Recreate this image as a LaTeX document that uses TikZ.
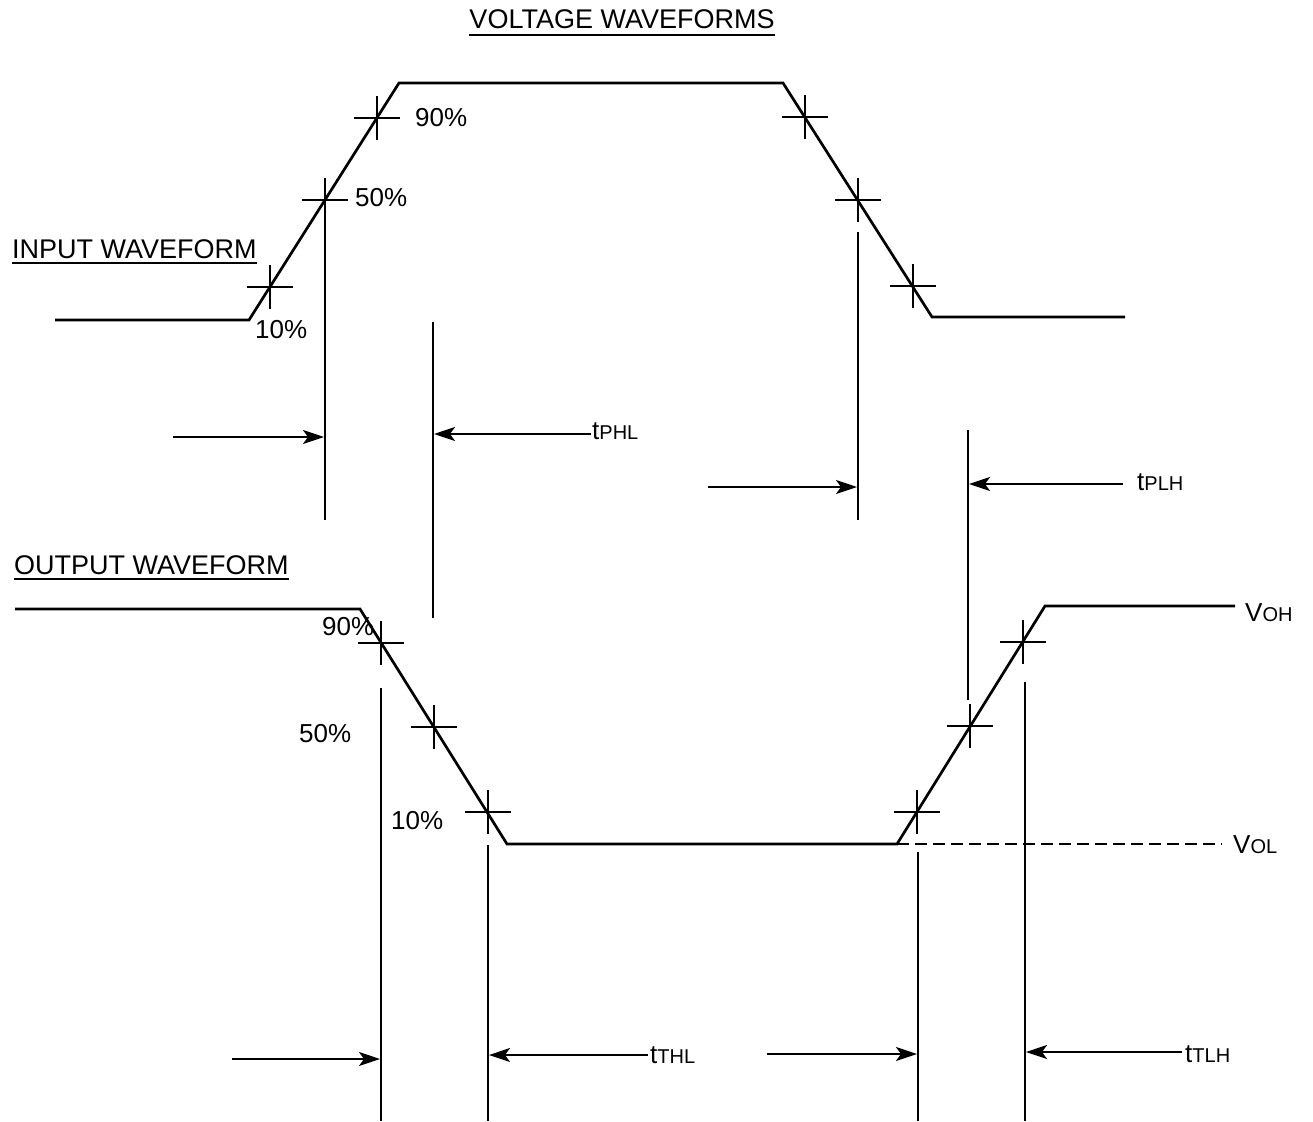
\documentclass[tikz,border=0pt]{standalone}
\usepackage{fontspec}
\setmainfont{Liberation Sans}
\usetikzlibrary{arrows.meta}
\newcommand{\lsub}[1]{{\fontsize{20}{22}\selectfont #1}}
\begin{document}
\begin{tikzpicture}[x=1pt,y=-1pt,
  wave/.style={line width=2.7pt, line join=miter},
  vline/.style={line width=2.2pt},
  arr/.style={line width=2.2pt,-{Stealth[length=21pt,width=14pt,inset=5pt]}},
  lbl/.style={font=\fontsize{26}{30}\selectfont, inner sep=0pt, anchor=base west},
  headlbl/.style={lbl, font=\fontsize{27}{31}\selectfont},
  uline/.style={line width=2.2pt},
  crossmark/.pic={\draw[line width=2.6pt] (-23,0) -- (23,0) (0,-22) -- (0,22);}
]
\useasboundingbox (0,0) rectangle (1313,1121);

% titles
\node[headlbl, anchor=base] (title) at (622,29) {VOLTAGE WAVEFORMS};
\draw[uline] ([yshift=-6pt]title.base west) -- ([yshift=-6pt]title.base east);
\node[headlbl] (inlbl) at (12,258) {INPUT WAVEFORM};
\draw[uline] ([yshift=-5pt]inlbl.base west) -- ([yshift=-5pt]inlbl.base east);
\node[headlbl] (outlbl) at (14,574) {OUTPUT WAVEFORM};
\draw[uline] ([yshift=-5pt]outlbl.base west) -- ([yshift=-5pt]outlbl.base east);

% input waveform
\coordinate (iA0) at (55,320);
\coordinate (iA) at (249,320);
\coordinate (iB) at (399,83);
\coordinate (iC) at (783,83);
\coordinate (iD) at (932,317);
\coordinate (iD1) at (1125,317);
\draw[wave] (iA0) -- (iA) -- (iB) -- (iC) -- (iD) -- (iD1);
\coordinate (ir10) at (270,287);
\coordinate (ir50) at (325,200);
\coordinate (ir90) at (377,118);
\coordinate (if90) at (805,117);
\coordinate (if50) at (858,200);
\coordinate (if10) at (913,286);
\foreach \p in {ir10,ir50,ir90,if90,if50,if10} \pic at (\p) {crossmark};

\node[lbl] (ip90) at (415,127) {90\%};
\node[lbl] (ip50) at (355,206) {50\%};
\node[lbl] (ip10) at (255,338) {10\%};

% output waveform
\coordinate (oE0) at (15,609);
\coordinate (oE) at (360,609);
\coordinate (oF) at (507,844);
\coordinate (oG) at (897,844);
\coordinate (oH) at (1045,606);
\coordinate (oH1) at (1235,606);
\coordinate (oG1) at (1222,844);
\draw[wave] (oE0) -- (oE) -- (oF) -- (oG) -- (oH) -- (oH1);
\draw[line width=2.2pt, dash pattern=on 12pt off 6pt] (oG) -- (oG1);
\coordinate (of90) at (381,643);
\coordinate (of50) at (434,727);
\coordinate (of10) at (488,812);
\coordinate (or10) at (917,812);
\coordinate (or50) at (970,726);
\coordinate (or90) at (1023,642);
\foreach \p in {of90,of50,of10,or10,or50,or90} \pic at (\p) {crossmark};

\node[lbl] (op90) at (322,635) {90\%};
\node[lbl] (op50) at (299,742) {50\%};
\node[lbl] (op10) at (391,829) {10\%};
\node[lbl] (voh) at (1245,621) {V\lsub{OH}};
\node[lbl] (vol) at (1233,853) {V\lsub{OL}};

% vertical reference lines
\coordinate (v1a) at (325,200);  \coordinate (v1b) at (325,520);
\coordinate (v2a) at (433,322);  \coordinate (v2b) at (433,618);
\coordinate (v3a) at (858,232);  \coordinate (v3b) at (858,520);
\coordinate (v4a) at (968,430);  \coordinate (v4b) at (968,700);
\coordinate (v5a) at (381,688);  \coordinate (v5b) at (381,1121);
\coordinate (v6a) at (488,845);  \coordinate (v6b) at (488,1121);
\coordinate (v7a) at (918,852);  \coordinate (v7b) at (918,1121);
\coordinate (v8a) at (1025,682); \coordinate (v8b) at (1025,1121);
\foreach \i in {1,...,8} \draw[vline] (v\i a) -- (v\i b);

% timing arrows and labels
\node[lbl] (tphl) at (592,439) {t\lsub{PHL}};
\node[lbl] (tplh) at (1137,490) {t\lsub{PLH}};
\node[lbl] (tthl) at (650,1063) {t\lsub{THL}};
\node[lbl] (ttlh) at (1185,1062) {t\lsub{TLH}};

\coordinate (a1s) at (173,437);  \coordinate (a1e) at (324,437);
\coordinate (a2s) at (591,434);  \coordinate (a2e) at (434,434);
\coordinate (a3s) at (708,487);  \coordinate (a3e) at (857,487);
\coordinate (a4s) at (1123,484); \coordinate (a4e) at (969,484);
\coordinate (a5s) at (232,1059); \coordinate (a5e) at (380,1059);
\coordinate (a6s) at (648,1055); \coordinate (a6e) at (489,1055);
\coordinate (a7s) at (767,1054); \coordinate (a7e) at (917,1054);
\coordinate (a8s) at (1182,1052);\coordinate (a8e) at (1026,1052);
\foreach \i in {1,...,8} \draw[arr] (a\i s) -- (a\i e);
\end{tikzpicture}
\end{document}
